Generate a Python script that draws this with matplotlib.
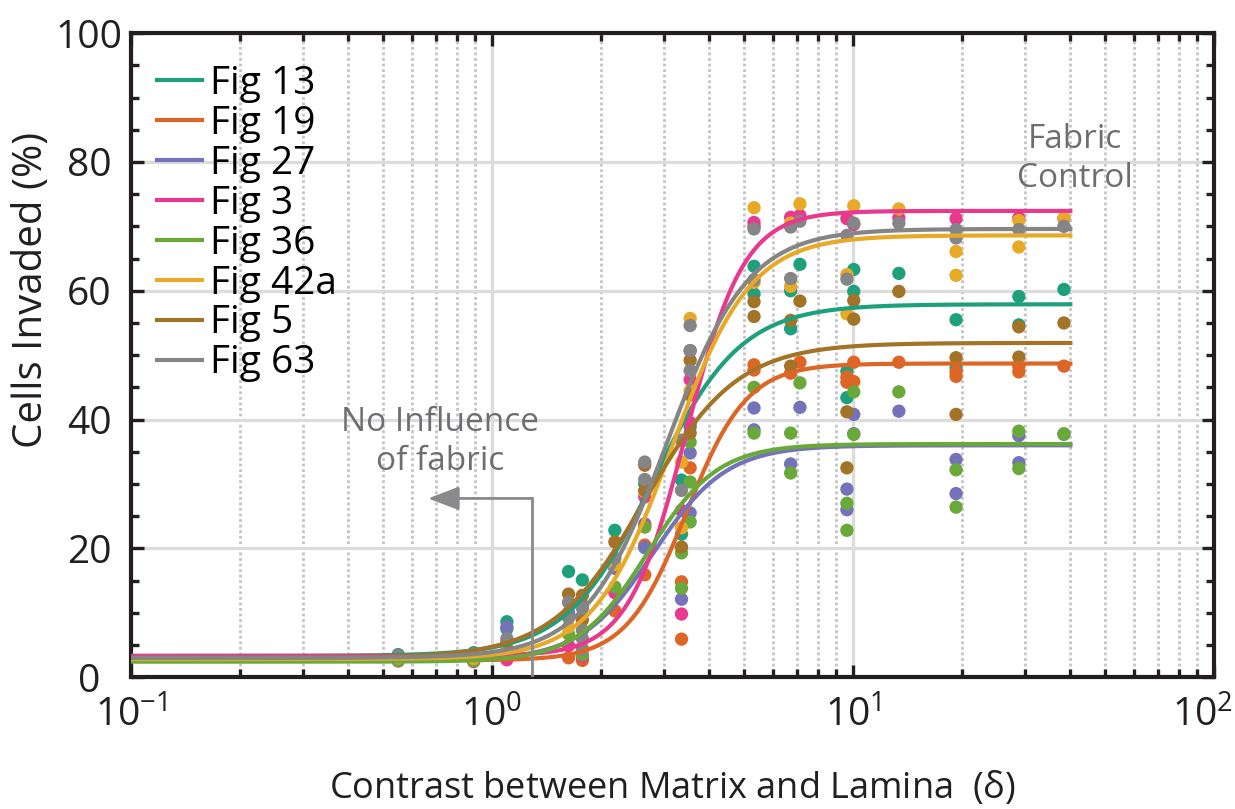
import matplotlib
matplotlib.use("Agg")
import matplotlib.pyplot as plt
import matplotlib.transforms as mtransforms
import numpy as np
from matplotlib.ticker import FixedLocator, FixedFormatter, MultipleLocator

plt.rcParams["font.family"] = ["Open Sans", "DejaVu Sans"]
plt.rcParams["mathtext.fontset"] = "custom"
plt.rcParams["mathtext.rm"] = "Open Sans"
plt.rcParams["mathtext.it"] = "Open Sans"

# ---- measured invasion, one pair of lists per fabric ----
fig13_x = [0.55, 0.89, 1.10, 1.10, 1.63, 1.78, 2.19, 2.65, 3.35, 3.35, 3.54, 5.32, 5.32, 6.72, 6.72,
           7.13, 9.62, 9.62, 10.05, 10.05, 13.4, 19.3, 19.3, 28.8, 28.8, 38.4]
fig13_y = [3.5, 3.8, 8.6, 7.5, 16.4, 15.1, 22.8, 30.0, 30.6, 22.2, 38.9, 63.8, 59.5, 60.0, 54.1,
           64.1, 47.5, 43.4, 63.3, 59.9, 62.7, 55.5, 48.0, 59.1, 54.7, 60.2]

fig19_x = [0.55, 0.89, 1.10, 1.63, 1.78, 2.19, 2.65, 2.65, 3.35, 3.35, 3.54, 5.32, 5.32, 6.72,
           7.13, 9.62, 9.62, 10.05, 10.05, 13.4, 19.3, 19.3, 28.8, 28.8, 38.4]
fig19_y = [2.8, 2.6, 2.9, 3.0, 2.6, 10.3, 20.5, 15.9, 14.8, 5.9, 32.5, 48.5, 47.7, 47.2,
           48.9, 46.6, 45.8, 48.9, 45.9, 48.9, 47.4, 46.7, 48.2, 47.4, 48.3]

fig27_x = [0.55, 0.89, 1.10, 1.63, 1.78, 2.19, 2.65, 2.65, 3.35, 3.54, 3.54, 5.32, 5.32, 6.72,
           7.13, 9.62, 9.62, 10.05, 10.05, 13.4, 19.3, 19.3, 28.8, 28.8, 38.4]
fig27_y = [3.2, 3.3, 7.8, 10.0, 11.2, 16.9, 23.8, 20.1, 12.1, 34.8, 25.5, 41.8, 38.4, 33.1,
           41.9, 29.2, 26.0, 40.8, 37.8, 41.3, 33.8, 28.5, 37.5, 33.3, 37.7]

fig3_x = [0.55, 0.89, 1.10, 1.63, 1.78, 2.19, 2.65, 2.65, 3.35, 3.35, 3.54, 3.54, 3.54, 5.32, 5.32,
          6.72, 7.13, 9.62, 10.05, 13.4, 19.3, 28.8, 38.4]
fig3_y = [2.5, 2.4, 2.7, 4.9, 3.2, 13.1, 28.0, 23.5, 25.9, 9.8, 50.7, 46.2, 39.5, 70.6, 70.0,
          71.4, 71.7, 71.2, 70.3, 71.3, 71.2, 71.3, 71.2]

fig36_x = [0.55, 0.89, 1.10, 1.63, 1.78, 2.19, 2.65, 3.35, 3.35, 3.54, 3.54, 3.54, 5.32, 5.32,
           6.72, 6.72, 7.13, 9.62, 9.62, 10.05, 10.05, 13.4, 19.3, 19.3, 28.8, 28.8, 38.4]
fig36_y = [2.6, 2.5, 3.5, 6.7, 3.5, 14.0, 23.3, 19.3, 13.8, 36.5, 30.3, 24.1, 45.0, 37.9,
           37.9, 31.7, 45.7, 27.0, 22.8, 44.3, 37.7, 44.3, 32.2, 26.4, 38.2, 32.4, 37.8]

fig42a_x = [0.55, 0.89, 1.10, 1.63, 1.78, 2.19, 2.65, 3.35, 3.35, 3.54, 3.54, 5.32, 5.32, 6.72,
            6.72, 7.13, 9.62, 9.62, 10.05, 13.4, 19.3, 19.3, 28.8, 28.8, 38.4]
fig42a_y = [3.0, 2.9, 4.5, 7.8, 4.5, 17.5, 28.8, 33.4, 23.2, 55.7, 44.5, 72.9, 61.3, 60.7,
            70.5, 73.5, 62.5, 56.4, 73.2, 72.7, 66.1, 62.4, 70.9, 66.8, 71.3]

fig5_x = [0.55, 0.89, 1.10, 1.63, 1.78, 1.78, 2.19, 2.65, 2.65, 3.35, 3.54, 3.54, 3.54, 5.32, 5.32,
          6.72, 6.72, 7.13, 9.62, 9.62, 10.05, 10.05, 13.4, 19.3, 19.3, 28.8, 28.8, 38.4]
fig5_y = [3.3, 3.5, 5.5, 12.9, 12.7, 8.9, 21.0, 32.9, 29.0, 20.2, 49.2, 43.8, 37.9, 58.3, 56.0,
          55.4, 48.3, 58.4, 41.2, 32.5, 58.5, 55.6, 59.9, 49.6, 40.8, 54.4, 49.7, 55.0]

fig63_x = [0.55, 0.89, 1.10, 1.63, 1.63, 1.78, 1.78, 1.78, 1.78, 2.19, 2.65, 2.65, 3.35, 3.35,
           3.54, 3.54, 3.54, 5.32, 5.32, 6.72, 6.72, 7.13, 9.62, 9.62, 10.05, 13.4, 19.3, 19.3,
           28.8, 38.4]
fig63_y = [3.3, 3.6, 6.0, 11.6, 9.2, 10.7, 7.3, 6.0, 4.3, 18.5, 33.4, 30.7, 36.8, 29.0,
           54.6, 50.7, 47.6, 69.6, 61.7, 69.9, 61.9, 70.8, 68.6, 61.8, 70.5, 70.5, 69.5, 68.2,
           69.5, 70.0]

labels = ["Fig 13", "Fig 19", "Fig 27", "Fig 3", "Fig 36", "Fig 42a", "Fig 5", "Fig 63"]
colors = ["#1fa07d", "#dd6626", "#7472b8", "#e8398f", "#68a93a", "#e8aa26", "#a37328", "#858587"]

# sigmoid fit (Hill form) per fabric: floor, plateau, half-point, slope
fit_base = [3.3, 2.6, 2.6, 3.3, 2.4, 2.8, 3.0, 3.0]
fit_top = [57.9, 48.7, 36.0, 72.4, 36.2, 68.6, 51.9, 69.6]
fit_x0 = [2.8, 3.46, 2.8, 3.45, 2.7, 3.15, 2.65, 3.05]
fit_n = [3.6, 5.2, 4.3, 5.4, 4.5, 4.0, 3.4, 3.85]

xs = [fig13_x, fig19_x, fig27_x, fig3_x, fig36_x, fig42a_x, fig5_x, fig63_x]
ys = [fig13_y, fig19_y, fig27_y, fig3_y, fig36_y, fig42a_y, fig5_y, fig63_y]


def hill(d, base, top, x0, n):
    return base + (top - base) / (1.0 + (x0 / d) ** n)


ink = "#231f20"
fig = plt.figure(figsize=(12.35, 8.09), dpi=100)
ax = fig.add_axes([0.106, 0.163, 0.877, 0.796])
ax.set_xscale("log")
ax.set_xlim(0.1, 100)
ax.set_ylim(0, 100)

d = np.logspace(-1, np.log10(40), 400)
for i, lab in enumerate(labels):
    ax.scatter(xs[i], ys[i], s=92, color=colors[i], edgecolors="none", zorder=3)
    ax.plot(d, hill(d, fit_base[i], fit_top[i], fit_x0[i], fit_n[i]),
            color=colors[i], lw=3.0, label=lab, zorder=4)

# grid
ax.set_axisbelow(True)
ax.grid(which="major", color="#dcdcdc", lw=2.4, ls="-")
ax.grid(which="minor", axis="x", color="#c4c4c4", lw=2.0, ls=(0, (1, 1)))

# ticks
ax.xaxis.set_major_locator(FixedLocator([0.1, 1, 10, 100]))
ax.xaxis.set_major_formatter(FixedFormatter([r"$10^{-1}$", r"$10^{0}$", r"$10^{1}$", r"$10^{2}$"]))
ax.xaxis.set_minor_locator(FixedLocator([k * 10.0 ** e for e in (-1, 0, 1) for k in range(2, 10)]))
ax.xaxis.set_minor_formatter(FixedFormatter([]))
ax.yaxis.set_major_locator(MultipleLocator(20))
ax.yaxis.set_minor_locator(MultipleLocator(5))
ax.tick_params(which="both", direction="in", top=True, right=True, width=2.4, colors=ink,
               labelsize=28)
ax.tick_params(which="major", length=9)
ax.tick_params(which="minor", length=5.5)
ax.tick_params(axis="x", pad=14)
ax.tick_params(axis="y", pad=30)
for t in ax.get_yticklabels():
    t.set_horizontalalignment("center")
# keep the last decade label inside the canvas
last = ax.get_xticklabels()[-1]
last.set_transform(last.get_transform() + mtransforms.ScaledTranslation(-0.12, 0, fig.dpi_scale_trans))
for s in ax.spines.values():
    s.set_linewidth(3)
    s.set_color(ink)

ax.set_xlabel(r"Contrast between Matrix and Lamina  ($\delta$)", fontsize=26, labelpad=24, color=ink)
ax.set_ylabel("Cells Invaded (%)", fontsize=29, color=ink)
ax.yaxis.set_label_coords(-0.073, 0.601)

ax.legend(loc="upper left", bbox_to_anchor=(0.01, 0.975), frameon=False, fontsize=28,
          handlelength=1.15, handletextpad=0.2, labelspacing=0.05, borderaxespad=0)

# annotations
ann_col = "#6d6e71"
arrow_col = "#8a8a8c"
ax.text(0.72, 36.5, "No Influence\nof fabric", ha="center", va="center", fontsize=24,
        color=ann_col, linespacing=1.25)
ax.plot([1.29, 1.29], [0, 27.75], color=arrow_col, lw=2, zorder=5)
ax.annotate("", xy=(0.665, 27.75), xytext=(1.29, 27.75),
            arrowprops=dict(arrowstyle="-|>,head_length=0.95,head_width=0.36",
                            color=arrow_col, lw=2, mutation_scale=20, shrinkA=0, shrinkB=0),
            zorder=5)
ax.text(41.2, 80.5, "Fabric\nControl", ha="center", va="center", fontsize=24,
        color=ann_col, linespacing=1.25)

fig.savefig("out.png", dpi=100)
